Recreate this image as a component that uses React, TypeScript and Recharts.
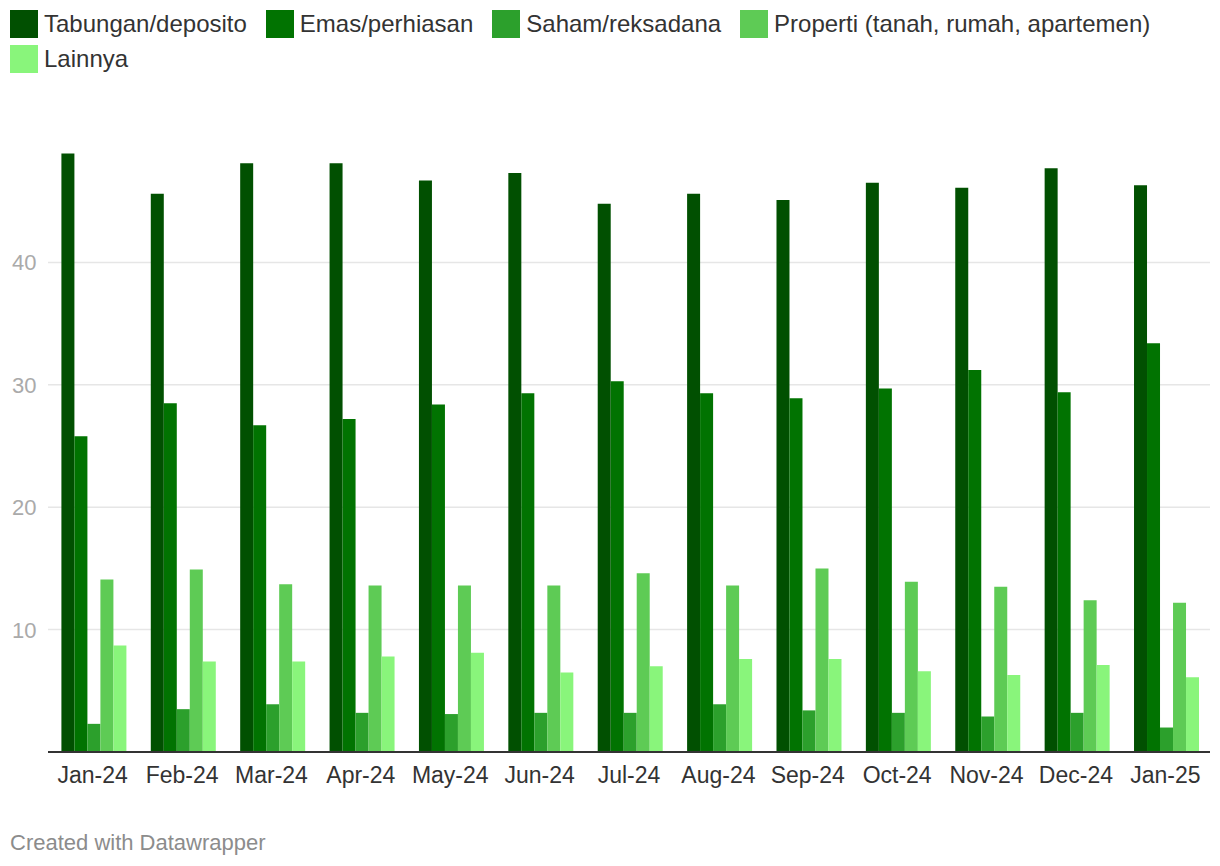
import { Bar, BarChart, CartesianGrid, XAxis, YAxis } from "recharts";

const months = ["Jan-24", "Feb-24", "Mar-24", "Apr-24", "May-24", "Jun-24", "Jul-24", "Aug-24", "Sep-24", "Oct-24", "Nov-24", "Dec-24", "Jan-25"];
const tabungan = [48.9, 45.6, 48.1, 48.1, 46.7, 47.3, 44.8, 45.6, 45.1, 46.5, 46.1, 47.7, 46.3];
const emas = [25.8, 28.5, 26.7, 27.2, 28.4, 29.3, 30.3, 29.3, 28.9, 29.7, 31.2, 29.4, 33.4];
const saham = [2.3, 3.5, 3.9, 3.2, 3.1, 3.2, 3.2, 3.9, 3.4, 3.2, 2.9, 3.2, 2.0];
const properti = [14.1, 14.9, 13.7, 13.6, 13.6, 13.6, 14.6, 13.6, 15.0, 13.9, 13.5, 12.4, 12.2];
const lainnya = [8.7, 7.4, 7.4, 7.8, 8.1, 6.5, 7.0, 7.6, 7.6, 6.6, 6.3, 7.1, 6.1];
const yTicks = [10, 20, 30, 40];

const series = [
  { key: "tabungan", name: "Tabungan/deposito", color: "#015001" },
  { key: "emas", name: "Emas/perhiasan", color: "#017301" },
  { key: "saham", name: "Saham/reksadana", color: "#2ca02c" },
  { key: "properti", name: "Properti (tanah, rumah, apartemen)", color: "#5ecb55" },
  { key: "lainnya", name: "Lainnya", color: "#89f57b" },
];

const data = months.map((m, i) => ({
  month: m,
  tabungan: tabungan[i],
  emas: emas[i],
  saham: saham[i],
  properti: properti[i],
  lainnya: lainnya[i],
}));

const font = '"Liberation Sans", Arial, Helvetica, sans-serif';

function YTick(props: any) {
  const { y, payload } = props;
  return (
    <text x={12} y={y} dy={8} textAnchor="start" fill="#aaaaaa" fontSize={22} fontFamily={font}>
      {payload.value}
    </text>
  );
}

export default function App() {
  return (
    <div style={{ position: "absolute", left: 0, top: 0, width: 1220, height: 866, background: "#fff", fontFamily: font }}>
      <div style={{ position: "absolute", left: 10, top: 10, width: 1190, display: "flex", flexWrap: "wrap", rowGap: 7 }}>
        {series.map((s) => (
          <div key={s.key} style={{ display: "flex", alignItems: "center", marginRight: 19, height: 28 }}>
            <div style={{ width: 28, height: 28, background: s.color, marginRight: 6 }} />
            <span style={{ fontSize: 24, color: "#333" }}>{s.name}</span>
          </div>
        ))}
      </div>
      <BarChart
        width={1220}
        height={866}
        data={data}
        margin={{ top: 140, right: 10, bottom: 74, left: 0 }}
        barCategoryGap="15%"
        barGap={0}
      >
        <CartesianGrid vertical={false} stroke="#e6e6e6" strokeWidth={1.5} horizontalValues={yTicks} />
        <YAxis width={48} domain={[0, 50]} ticks={yTicks} axisLine={false} tickLine={false} tick={<YTick />} />
        <XAxis
          dataKey="month"
          height={40}
          tickLine={false}
          axisLine={{ stroke: "#333", strokeWidth: 2 }}
          tick={{ fill: "#333", fontSize: 23, fontFamily: font }}
          dy={7}
          interval={0}
        />
        {series.map((s) => (
          <Bar key={s.key} dataKey={s.key} name={s.name} fill={s.color} isAnimationActive={false} />
        ))}
      </BarChart>
      <div style={{ position: "absolute", left: 10, top: 830, fontSize: 22, color: "#8c8c8c" }}>Created with Datawrapper</div>
    </div>
  );
}
